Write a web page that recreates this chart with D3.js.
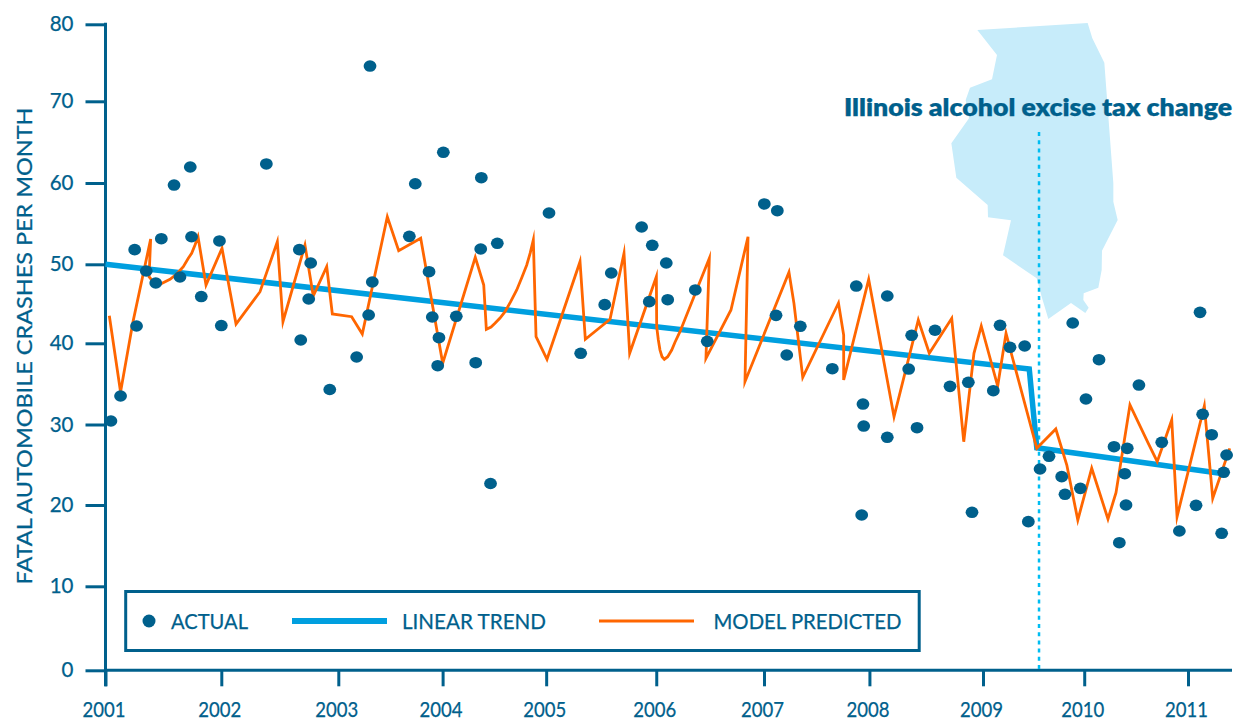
<!DOCTYPE html>
<html><head><meta charset="utf-8">
<script src="https://cdn.jsdelivr.net/npm/d3@7/dist/d3.min.js"></script>
<style>html,body{margin:0;padding:0;background:#fff}svg{display:block}text{font-family:Lato,sans-serif;fill:#00608c;stroke:#00608c;stroke-width:0.25px}</style>
</head><body><svg id="c" width="1238" height="720"></svg>
<script>
const actualYear=[2001.047,2001.130,2001.252,2001.268,2001.352,2001.434,2001.482,2001.592,2001.643,2001.732,2001.743,2001.827,2001.984,2002.0,
2002.385,2002.667,2002.679,2002.747,2002.764,2002.927,
2003.176,2003.291,2003.304,2003.326,2003.681,2003.738,2003.870,2003.901,2003.953,2003.965,
2004.007,2004.131,2004.317,2004.365,2004.371,2004.459,2004.524,
2005.018,2005.304,2005.521,2005.580,2005.854,2005.923,2005.950,
2006.078,2006.091,2006.345,2006.455,2006.980,
2007.090,2007.102,2007.191,2007.319,2007.621,2007.847,2007.898,2007.910,2007.917,
2008.129,2008.129,2008.316,2008.342,2008.389,2008.546,2008.677,2008.837,2008.869,
2009.062,2009.128,2009.226,2009.370,2009.406,2009.521,2009.609,2009.734,2009.766,2009.842,2009.917,2009.972,
2010.098,2010.242,2010.293,2010.345,2010.357,2010.369,2010.481,2010.700,2010.869,
2011.029,2011.067,2011.092,2011.178,2011.273,2011.292,2011.320];
const actualCrashes=[30.43,33.51,51.8,42.19,49.15,47.63,53.15,59.75,48.39,61.96,53.39,45.92,52.87,42.25,
62.33,51.8,40.42,45.61,50.16,34.31,
38.31,43.58,74.58,47.76,53.44,59.91,49.06,43.33,37.24,40.71,
63.76,43.42,37.61,51.88,60.65,22.67,52.58,
56.31,38.77,44.89,48.9,54.59,45.27,52.34,
50.16,45.52,46.75,40.25,57.42,
43.54,56.59,38.56,42.15,36.87,47.25,18.77,32.52,29.81,
45.99,28.41,36.83,41.01,29.6,41.65,34.7,35.2,19.1,
34.16,42.28,39.51,39.67,17.95,24.47,26.05,23.52,21.33,42.57,22.07,33.14,
37.98,27.24,15.36,23.89,20.0,27.04,34.86,27.79,16.8,
19.96,43.92,31.26,28.73,16.52,24.06,26.21];
const modelYear=[2001.033,2001.130,2001.237,2001.390,2001.376,2001.442,2001.557,2001.615,2001.672,2001.715,2001.744,2001.773,2001.799,2001.868,2002.006,
2002.126,2002.331,2002.479,2002.527,2002.715,2002.786,2002.901,2002.949,
2003.128,2003.230,2003.470,2003.579,2003.790,2004.001,2004.313,2004.394,2004.419,2004.464,2004.502,2004.550,2004.598,2004.652,2004.710,2004.760,2004.806,2004.840,2004.869,2004.895,
2005.0,2005.298,2005.346,2005.569,2005.695,2005.746,2005.987,2005.990,
2006.005,2006.020,2006.039,2006.060,2006.091,2006.128,2006.158,2006.204,2006.474,2006.443,2006.673,2006.830,2006.802,
2007.212,2007.259,2007.342,2007.679,2007.728,2007.728,2007.964,
2008.188,2008.400,2008.496,2008.692,2008.797,2008.886,2008.950,
2009.105,2009.187,2009.243,2009.489,2009.676,2009.784,2009.892,
2010.028,2010.184,2010.261,2010.395,2010.571,2010.657,2010.796,2010.847,
2011.108,2011.188,2011.350];
const modelCrashes=[43.49,34.0,42.7,53.11,48.43,47.25,48.1,48.77,49.7,50.74,51.35,52.37,53.39,47.38,51.97,
42.44,46.53,52.78,42.73,52.37,45.99,49.7,43.71,
43.37,41.18,55.85,51.67,53.2,37.54,50.86,47.38,41.77,42.06,42.53,43.2,44.0,45.27,46.75,48.35,49.91,51.43,52.99,40.84,
38.03,50.32,40.51,43.04,51.35,38.77,48.43,42.1,
40.42,39.17,38.35,38.03,38.35,39.17,40.13,41.47,50.74,38.15,44.22,53.39,35.27,
48.99,45.06,35.81,45.1,41.05,35.48,48.1,
30.96,42.95,38.77,43.16,27.86,38.77,42.19,
34.74,41.27,38.56,27.04,29.44,24.97,18.15,
24.56,18.28,21.53,32.4,27.66,25.38,30.55,18.56,
32.28,20.83,27.04];
const trendYear=[2001.0,2009.415,2009.489,2011.257];
const trendCrashes=[50.0,36.83,27.1,23.94];
const changeYear=2009.511;
const yTicks=[0,10,20,30,40,50,60,70,80];
const xTickLabels=["2001","2002","2003","2004","2005","2006","2007","2008","2009","2010","2011"];
const xTickYears=[2001,2002,2003,2004,2004.992,2005.986,2006.977,2007.971,2008.965,2009.955,2010.952];
const legendLabels=["ACTUAL","LINEAR TREND","MODEL PREDICTED"];
const annotationLabel="Illinois alcohol excise tax change";
const yAxisTitle="FATAL AUTOMOBILE CRASHES PER MONTH";
const illinoisOutline=[[472,60],[803,39],[817,85],[853,158],[880,520],[880,575],[893,630],[846,722],[845,780],[835,833],[791,850],[790,870],[806,893],[796,909],[753,879],[685,927],[665,860],[650,805],[549,736],[573,631],[504,622],[503,585],[409,503],[394,400],[447,325],[437,270],[450,233],[516,208],[531,135]];

const navy="#00608c",blue="#009fdf",orange="#ff6600";
const svg=d3.select("#c");
const x=d3.scaleLinear().domain([2001,2002,2003,2004,2005,2006,2007,2008,2009,2010,2011,2012])
  .range([105.5,221.3,338.3,442.6,547,657.8,766.5,872.5,987,1088.8,1193,1298]);
const y=d3.scaleLinear().domain(yTicks).range([670.3,586.3,505,424.5,343.3,264.3,183,101.3,24.3]);

svg.append("path").attr("fill","#c7ecfa")
  .attr("d",d3.line().x(d=>820+d[0]/3).y(d=>10+d[1]/3).curve(d3.curveLinearClosed)(illinoisOutline));

const ax=svg.append("g");
const gy=ax.append("g").attr("transform",`translate(${x(2001)},0)`)
  .call(d3.axisLeft(y).tickValues(yTicks).tickSize(20).tickPadding(12).tickFormat(d3.format("d")));
const gx=ax.append("g").attr("transform",`translate(0,${y(0)})`)
  .call(d3.axisBottom(x).tickValues(xTickYears).tickSize(16).tickPadding(20).tickFormat((d,i)=>xTickLabels[i]));
gy.select(".domain").remove();gx.select(".domain").remove();
ax.selectAll("line").attr("stroke",navy).attr("stroke-width",3);
ax.selectAll("text").attr("font-family","Lato").attr("font-size",20.5).attr("fill",navy);
gx.selectAll("text").attr("font-size",21).attr("dy","0.5em").attr("dx",-2).attr("textLength",43).attr("lengthAdjust","spacingAndGlyphs");
ax.append("line").attr("x1",x(2001)).attr("x2",x(2001)).attr("y1",y(80)-1.5).attr("y2",y(0)+16).attr("stroke",navy).attr("stroke-width",3);
ax.append("line").attr("x1",x(2001)).attr("x2",1232).attr("y1",y(0)).attr("y2",y(0)).attr("stroke",navy).attr("stroke-width",3);

svg.append("text").attr("transform","translate(31.5,346) rotate(-90)").attr("text-anchor","middle")
  .attr("font-size",22).attr("textLength",477).attr("lengthAdjust","spacingAndGlyphs").text(yAxisTitle);

svg.append("line").attr("x1",x(changeYear)).attr("x2",x(changeYear)).attr("y1",132).attr("y2",y(0))
  .attr("stroke","#00bdf2").attr("stroke-width",2.5).attr("stroke-dasharray","4 4.2");

const line=d3.line().x(d=>x(d[0])).y(d=>y(d[1]));
svg.append("path").attr("fill","none").attr("stroke",blue).attr("stroke-width",5.5).attr("stroke-linejoin","miter")
  .attr("d",line(d3.zip(trendYear,trendCrashes)));
svg.append("path").attr("fill","none").attr("stroke",orange).attr("stroke-width",2.8).attr("stroke-miterlimit",8)
  .attr("d",line(d3.zip(modelYear,modelCrashes)));
svg.append("g").selectAll("ellipse").data(d3.zip(actualYear,actualCrashes)).join("ellipse")
  .attr("cx",d=>x(d[0])).attr("cy",d=>y(d[1])).attr("rx",6.4).attr("ry",5.8).attr("fill",navy);

svg.append("text").attr("x",1232).attr("y",116).attr("text-anchor","end").attr("font-size",23.5).attr("font-weight",800)
  .attr("textLength",388).attr("lengthAdjust","spacingAndGlyphs").text(annotationLabel);

const lg=svg.append("g");
lg.append("rect").attr("x",125.7).attr("y",591.5).attr("width",793.5).attr("height",59).attr("fill","#fff").attr("stroke",navy).attr("stroke-width",3);
lg.append("circle").attr("cx",149).attr("cy",621).attr("r",6.5).attr("fill",navy);
lg.append("line").attr("x1",292).attr("x2",387).attr("y1",621).attr("y2",621).attr("stroke",blue).attr("stroke-width",6);
lg.append("line").attr("x1",599).attr("x2",694).attr("y1",621).attr("y2",621).attr("stroke",orange).attr("stroke-width",3);
const lgX=[171,402,713.5],lgW=[77,144,188];
lg.selectAll("text").data(legendLabels).join("text").attr("x",(d,i)=>lgX[i]).attr("y",628.5).attr("font-size",20.5)
  .attr("textLength",(d,i)=>lgW[i]).attr("lengthAdjust","spacingAndGlyphs").text(d=>d);
</script></body></html>
